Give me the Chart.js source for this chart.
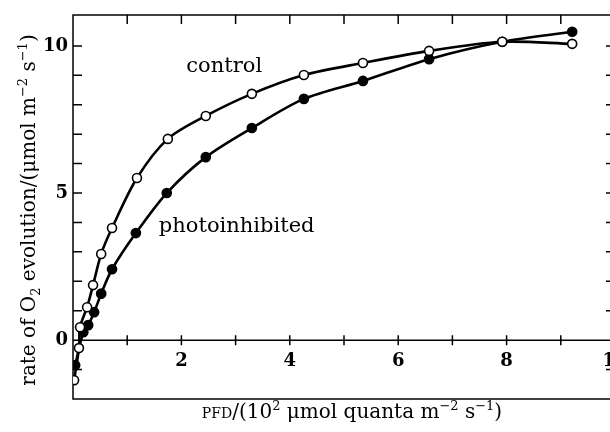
<!DOCTYPE html>
<html>
<head>
<meta charset="utf-8">
<script src="https://cdn.jsdelivr.net/npm/chart.js@4.4.1/dist/chart.umd.min.js"></script>
<style>
  html, body { margin: 0; padding: 0; background: #fff; overflow: hidden; }
  #wrap { width: 610px; height: 432px; overflow: hidden; }
</style>
</head>
<body>
<div id="wrap"><canvas id="chart" width="625" height="432"></canvas></div>
<script>
// values (PFD in 10^2 umol quanta m-2 s-1, rate in umol m-2 s-1)
const controlX = [0.02, 0.11, 0.13, 0.26, 0.37, 0.52, 0.72, 1.18, 1.75, 2.45, 3.30, 4.26, 5.35, 6.57, 7.92, 9.21];
const controlY = [-1.36, -0.27, 0.44, 1.12, 1.87, 2.93, 3.81, 5.51, 6.84, 7.62, 8.37, 9.01, 9.42, 9.83, 10.14, 10.07];
const photoX = [0.04, 0.19, 0.28, 0.39, 0.52, 0.72, 1.16, 1.73, 2.45, 3.30, 4.26, 5.35, 6.57, 7.92, 9.21];
const photoY = [-0.85, 0.27, 0.51, 0.95, 1.58, 2.41, 3.64, 5.0, 6.22, 7.21, 8.2, 8.81, 9.55, 10.14, 10.48];
const xTickLabels = [2, 4, 6, 8, 10];
const yTickLabels = [0, 5, 10];
const xMinorTicks = [1, 2, 3, 4, 5, 6, 7, 8, 9];
const yMinorTicks = [-1, 1, 2, 3, 4, 5, 6, 7, 8, 9, 10];

const serif = '"DejaVu Serif", serif';

function pts(xs, ys) {
  return xs.map((x, i) => ({ x: x, y: ys[i] }));
}

// draws a run of text pieces with super/subscripts, centred on (x, y)
function richText(ctx, parts, x, y) {
  let total = 0;
  parts.forEach(p => {
    ctx.font = p[1] + 'px ' + serif;
    p.w = ctx.measureText(p[0]).width;
    total += p.w;
  });
  let cx = x - total / 2;
  parts.forEach(p => {
    ctx.font = p[1] + 'px ' + serif;
    ctx.fillText(p[0], cx, y + (p[2] || 0));
    cx += p.w;
  });
}

const framePlugin = {
  id: 'frame',
  beforeDatasetsDraw(chart) {
    const ctx = chart.ctx;
    const a = chart.chartArea;
    const xs = chart.scales.x, ys = chart.scales.y;
    ctx.save();
    ctx.strokeStyle = '#000';
    ctx.lineWidth = 1.5;
    ctx.strokeRect(a.left, a.top, a.right - a.left, a.bottom - a.top);
    // zero line of the x axis
    const y0 = ys.getPixelForValue(0);
    ctx.beginPath();
    ctx.moveTo(a.left, y0);
    ctx.lineTo(a.right, y0);
    xMinorTicks.forEach(v => {
      const px = xs.getPixelForValue(v);
      ctx.moveTo(px, y0 - 5);
      ctx.lineTo(px, y0 + 5);
      ctx.moveTo(px, a.top);
      ctx.lineTo(px, a.top + 9);
    });
    yMinorTicks.forEach(v => {
      const py = ys.getPixelForValue(v);
      ctx.moveTo(a.left, py);
      ctx.lineTo(a.left + 9, py);
      ctx.moveTo(a.right, py);
      ctx.lineTo(a.right - 9, py);
    });
    ctx.stroke();
    ctx.restore();
  },
  afterDraw(chart) {
    const ctx = chart.ctx;
    const xs = chart.scales.x, ys = chart.scales.y;
    ctx.save();
    ctx.fillStyle = '#000';
    ctx.textAlign = 'left';
    ctx.textBaseline = 'alphabetic';
    // curve labels
    richText(ctx, [['control', 21]], xs.getPixelForValue(2.79), ys.getPixelForValue(9.12));
    richText(ctx, [['photoinhibited', 21]], xs.getPixelForValue(3.02), ys.getPixelForValue(3.67));
    // x title
    richText(ctx, [
      ['PFD', 14], ['/(10', 20], ['2', 13, -8], [' \u03bcmol quanta m', 20],
      ['\u22122', 13, -8], [' s', 20], ['\u22121', 13, -8], [')', 20]
    ], 352, 418);
    // y title
    ctx.translate(35, 210);
    ctx.rotate(-Math.PI / 2);
    richText(ctx, [
      ['rate of O', 20], ['2', 13, 5], [' evolution/(\u03bcmol m', 20],
      ['\u22122', 13, -8], [' s', 20], ['\u22121', 13, -8], [')', 20]
    ], 0, 0);
    ctx.restore();
  }
};

new Chart(document.getElementById('chart'), {
  type: 'line',
  data: {
    datasets: [
      {
        label: 'control',
        data: pts(controlX, controlY),
        borderColor: '#000',
        borderWidth: 2.6,
        backgroundColor: '#fff',
        pointBackgroundColor: '#fff',
        pointBorderColor: '#000',
        pointBorderWidth: 1.6,
        pointRadius: 4.5,
        tension: 0.3,
        fill: false
      },
      {
        label: 'photoinhibited',
        data: pts(photoX, photoY),
        borderColor: '#000',
        borderWidth: 2.6,
        backgroundColor: '#000',
        pointBackgroundColor: '#000',
        pointBorderColor: '#000',
        pointBorderWidth: 1.5,
        pointRadius: 4.6,
        tension: 0.3,
        fill: false
      }
    ]
  },
  options: {
    responsive: false,
    animation: false,
    devicePixelRatio: 1,
    layout: { padding: { left: 0, top: 15, right: 10, bottom: 33 } },
    plugins: {
      legend: { display: false },
      tooltip: { enabled: false }
    },
    scales: {
      x: {
        type: 'linear',
        min: 0,
        max: 10,
        position: { y: 0 },
        grid: { display: false, drawTicks: false },
        border: { display: false },
        afterBuildTicks: s => { s.ticks = xTickLabels.map(v => ({ value: v })); },
        afterFit: s => { s.paddingLeft = 0; s.paddingRight = 0; },
        ticks: {
          color: '#000',
          padding: 10,
          maxRotation: 0,
          font: { family: serif, size: 18, weight: 'bold' }
        }
      },
      y: {
        type: 'linear',
        min: -2,
        max: 11.05,
        grid: { display: false, drawTicks: false },
        border: { display: false },
        afterBuildTicks: s => { s.ticks = yTickLabels.map(v => ({ value: v })); },
        afterFit: s => { s.width = 73; s.paddingTop = 0; s.paddingBottom = 0; },
        ticks: {
          color: '#000',
          padding: 5,
          font: { family: serif, size: 18, weight: 'bold' }
        }
      }
    }
  },
  plugins: [framePlugin]
});
</script>
</body>
</html>
